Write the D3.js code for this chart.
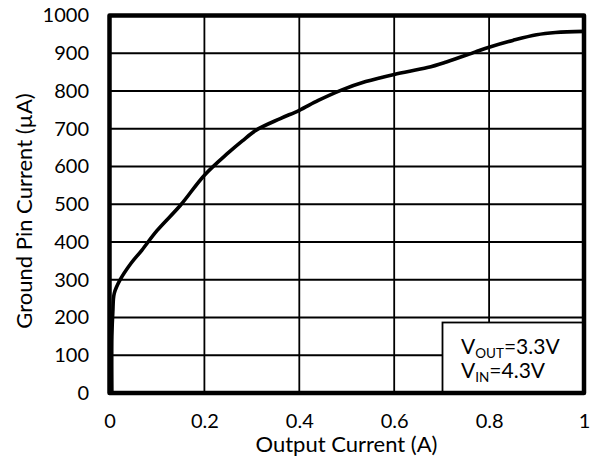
<!DOCTYPE html>
<html>
<head>
<meta charset="utf-8">
<script src="https://cdn.jsdelivr.net/npm/d3@7"></script>
<style>
  html, body { margin: 0; padding: 0; background: #fff; }
  svg { display: block; font-family: Lato, "Open Sans", sans-serif; }
</style>
</head>
<body>
<svg id="chart" width="592" height="458"></svg>
<script>
// Ground pin current versus output current
const outputCurrent = [0.005, 0.005, 0.007, 0.010, 0.022, 0.045, 0.068, 0.10, 0.15, 0.20, 0.25, 0.28, 0.31, 0.36, 0.40, 0.44, 0.49, 0.54, 0.60, 0.67, 0.71, 0.77, 0.80, 0.85, 0.90, 0.94, 1.0];
const groundCurrent = [0, 150, 215, 264, 299, 343, 378, 430, 498, 577, 636, 668, 697, 727, 749, 775, 803, 825, 844, 862, 877, 903, 916, 934, 949, 955, 958];

const xTicks = [0, 0.2, 0.4, 0.6, 0.8, 1];
const yTicks = [0, 100, 200, 300, 400, 500, 600, 700, 800, 900, 1000];

const xTitle = "Output Current (A)";
const yTitle = "Ground Pin Current (µA)";
const legendLines = [["V", "OUT", "=3.3V"], ["V", "IN", "=4.3V"]];

const svg = d3.select("#chart");
const plotLeft = 109.5, plotRight = 584, plotTop = 15.5, plotBottom = 393;
const tickFont = 20, titleFont = 22, legendFont = 21;

const x = d3.scaleLinear().domain([0, 1]).range([plotLeft, plotRight]);
const y = d3.scaleLinear().domain([0, 1000]).range([plotBottom, plotTop]);

// grid
const grid = svg.append("g").attr("stroke", "#000").attr("stroke-width", 1.8);
grid.selectAll("line.v").data(xTicks.slice(1, -1)).join("line")
  .attr("class", "v")
  .attr("x1", d => x(d)).attr("x2", d => x(d))
  .attr("y1", plotTop).attr("y2", plotBottom);
grid.selectAll("line.h").data(yTicks.slice(1, -1)).join("line")
  .attr("class", "h")
  .attr("x1", plotLeft).attr("x2", plotRight)
  .attr("y1", d => y(d)).attr("y2", d => y(d));

// curve
const pts = outputCurrent.map((c, i) => [c, groundCurrent[i]]);
const line = d3.line()
  .x(d => x(d[0])).y(d => y(d[1]))
  .curve(d3.curveCatmullRom.alpha(0.5));
svg.append("path")
  .datum(pts)
  .attr("d", line)
  .attr("fill", "none")
  .attr("stroke", "#000")
  .attr("stroke-width", 3.6)
  .attr("stroke-linejoin", "round")
  .attr("stroke-linecap", "round");

// legend box
const lg = svg.append("g");
lg.append("rect")
  .attr("x", 442.5).attr("y", 322.5)
  .attr("width", plotRight - 442.5).attr("height", plotBottom - 322.5)
  .attr("fill", "#fff").attr("stroke", "#000").attr("stroke-width", 1.8);
legendLines.forEach((l, i) => {
  const t = lg.append("text")
    .attr("x", 461).attr("y", 354 + i * 24)
    .attr("font-size", legendFont).attr("fill", "#000");
  t.append("tspan").text(l[0]);
  t.append("tspan").attr("font-size", 13.5).attr("dy", 4).text(l[1]);
  t.append("tspan").attr("dy", -4).text(l[2]);
});

// frame
svg.append("rect")
  .attr("x", plotLeft).attr("y", plotTop)
  .attr("width", plotRight - plotLeft).attr("height", plotBottom - plotTop)
  .attr("fill", "none").attr("stroke", "#000").attr("stroke-width", 4.5)
  .attr("stroke-linejoin", "round");

// axes
const xAxis = svg.append("g")
  .attr("transform", `translate(0,${plotBottom})`)
  .call(d3.axisBottom(x).tickValues(xTicks).tickFormat(d3.format("~g")).tickSize(0).tickPadding(20.5));
const yAxis = svg.append("g")
  .attr("transform", `translate(${plotLeft},0)`)
  .call(d3.axisLeft(y).tickValues(yTicks).tickFormat(d3.format("d")).tickSize(0).tickPadding(20.5));
[xAxis, yAxis].forEach(a => {
  a.select(".domain").remove();
  a.selectAll("text").attr("font-size", tickFont).attr("fill", "#000").attr("font-family", "Lato, sans-serif");
});

// titles
svg.append("text")
  .attr("x", 346.5).attr("y", 452)
  .attr("text-anchor", "middle").attr("font-size", titleFont).attr("fill", "#000")
  .text(xTitle);
svg.append("text")
  .attr("transform", `translate(31.5,211) rotate(-90)`)
  .attr("text-anchor", "middle").attr("font-size", titleFont).attr("fill", "#000")
  .text(yTitle);
</script>
</body>
</html>
